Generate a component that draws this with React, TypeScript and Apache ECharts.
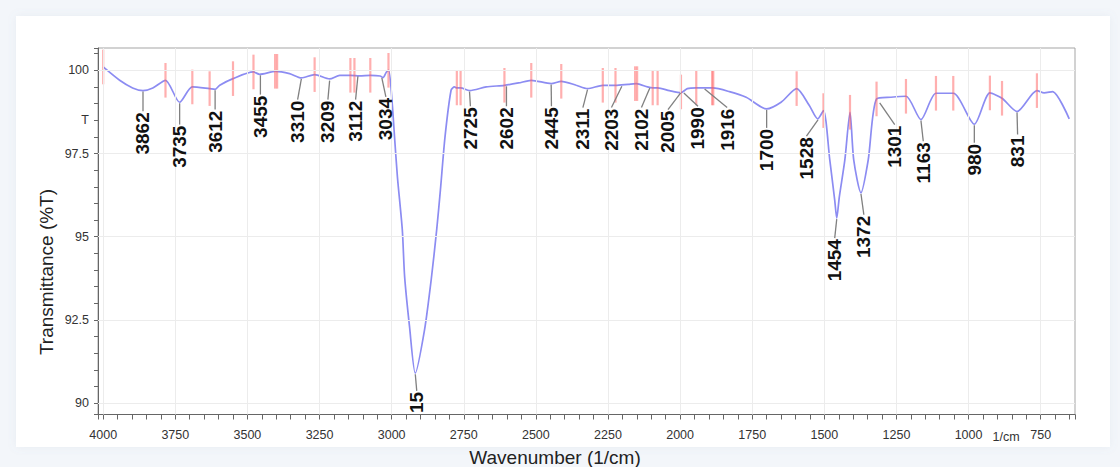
import React, { useEffect, useRef } from "react";
import * as echarts from "echarts";

// FTIR spectrum (wavenumber in 1/cm, transmittance in %T)
const wavenumbers = [
  4000, 3943, 3898, 3862, 3828, 3784, 3735, 3691, 3631, 3612, 3596, 3550, 3479, 3458, 3402, 3354,
  3313, 3267, 3215, 3180, 3143, 3111, 3074, 3040, 3030, 3018, 3010, 2998, 2990, 2980, 2963,
  2955, 2938, 2918, 2886, 2863, 2844, 2831, 2815, 2794, 2782, 2774, 2761, 2730, 2672, 2609,
  2560, 2516, 2447, 2412, 2360, 2321, 2268, 2224, 2180, 2152, 2113, 2095, 2078, 2037, 1997, 1975,
  1944, 1887, 1829, 1771, 1700, 1650, 1596, 1552, 1523, 1503, 1481, 1464, 1457, 1448, 1429, 1411,
  1398, 1373, 1348, 1319, 1269, 1217, 1165, 1113, 1053, 980, 926, 884, 832, 763, 738, 709, 651,
];
const transmittance = [
  100.1, 99.7, 99.47, 99.39, 99.47, 99.7, 99.04, 99.5, 99.45, 99.43, 99.55, 99.75, 99.95, 99.88, 99.97, 99.9,
  99.77, 99.87, 99.74, 99.85, 99.85, 99.83, 99.85, 99.83, 99.78, 99.95, 100.0, 99.0, 98.0, 96.8, 95.2,
  93.8, 92.3, 90.9, 92.2, 93.7, 95.2, 96.4, 98.0, 99.4, 99.5, 99.47, 99.47, 99.39, 99.5, 99.55,
  99.62, 99.7, 99.6, 99.67, 99.55, 99.45, 99.55, 99.55, 99.58, 99.6, 99.5, 99.47, 99.47, 99.39, 99.33, 99.45,
  99.47, 99.47, 99.36, 99.19, 98.84, 99.04, 99.45, 98.94, 98.54, 98.79, 97.3, 96.1, 95.56, 96.2, 97.3, 98.74,
  97.3, 96.32, 97.3, 99.14, 99.19, 99.22, 98.52, 99.31, 99.31, 98.38, 99.32, 99.16, 98.76, 99.39, 99.32, 99.36, 98.54,
];

// Peak annotations
const peakLabels = [
  "3862", "3735", "3612", "3455", "3310", "3209", "3112", "3034", "15", "2725", "2602", "2445", "2311",
  "2203", "2102", "2005", "1990", "1916", "1700", "1528", "1454", "1372", "1301", "1163", "980", "831",
];
const peakWn = [
  3862, 3735, 3612, 3455, 3313, 3215, 3117, 3034, 2918, 2730, 2602, 2447, 2321,
  2202, 2105, 1998, 1987, 1915, 1700, 1522, 1457, 1373, 1308, 1165, 980, 832,
];
const peakT = [
  99.39, 99.04, 99.43, 99.88, 99.77, 99.72, 99.85, 99.8, 90.9, 99.39, 99.55, 99.6, 99.45,
  99.55, 99.5, 99.35, 99.35, 99.47, 98.84, 98.54, 95.56, 96.32, 99.05, 98.52, 98.38, 98.76,
];
const labelWn = [
  3862, 3735, 3612, 3455, 3326, 3221, 3125, 3020, 2913, 2727, 2602, 2446, 2337,
  2238, 2134, 2042, 1938, 1837, 1700, 1562, 1464, 1363, 1256, 1157, 980, 830,
];
const labelTopT = [
  98.77, 98.37, 98.82, 99.27, 99.12, 99.12, 99.12, 99.2, 90.37, 98.92, 98.92, 98.92, 98.88,
  98.88, 98.88, 98.82, 98.92, 98.88, 98.27, 98.02, 94.96, 95.66, 98.37, 97.87, 97.82, 98.07,
];

// Red peak-pick markers
const markerWn = [
  4000, 3784, 3691, 3631, 3550, 3479, 3404, 3397, 3267, 3143, 3129, 3074, 3011, 2774, 2761, 2609,
  2516, 2412, 2268, 2224, 2156, 2149, 2095, 2078, 1997, 1944, 1889, 1885, 1596, 1503, 1411, 1319,
  1217, 1113, 1053, 926, 884, 763,
];
const markerT = [
  100.1, 99.7, 99.5, 99.45, 99.75, 99.95, 99.97, 99.97, 99.87, 99.85, 99.85, 99.85, 100.0, 99.47, 99.47, 99.55,
  99.7, 99.67, 99.55, 99.55, 99.6, 99.6, 99.47, 99.47, 99.35, 99.47, 99.47, 99.47, 99.45, 98.79, 98.74, 99.14,
  99.22, 99.31, 99.31, 99.32, 99.16, 99.39,
];

// Axis ticks
const xTickLabels = [4000, 3750, 3500, 3250, 3000, 2750, 2500, 2250, 2000, 1750, 1500, 1250, 1000, 750];
const yTickValues = [100, 98.5, 97.5, 95, 92.5, 90];
const yTickTexts = ["100", "T", "97.5", "95", "92.5", "90"];
const yGridValues = [100, 97.5, 95, 92.5, 90];

const FONT = '"Liberation Sans", Arial, sans-serif';

export default function App() {
  const ref = useRef<HTMLDivElement>(null);

  useEffect(() => {
    if (!ref.current) return;
    const chart = echarts.init(ref.current, undefined, { renderer: "svg" });

    const curve = wavenumbers.map((w, i) => [w, transmittance[i]]);
    const peaks = peakWn.map((w, i) => [w, peakT[i], labelWn[i], labelTopT[i]]);
    const markers = markerWn.map((w, i) => [w, markerT[i]]);

    const option: any = {
      animation: false,
      backgroundColor: "transparent",
      grid: {
        left: 98,
        right: 45,
        top: 48,
        bottom: 52.5,
        show: true,
        borderColor: "#a5a5a5",
        borderWidth: 1,
        backgroundColor: "#ffffff",
      },
      xAxis: {
        type: "value",
        inverse: true,
        min: 631,
        max: 4018,
        splitNumber: 60,
        axisLine: { show: true, onZero: false, lineStyle: { color: "#666", width: 1 } },
        axisTick: { show: true, length: 5, lineStyle: { color: "#666" } },
        axisLabel: {
          fontFamily: FONT,
          fontSize: 12.5,
          color: "#333",
          margin: 14,
          formatter: (v: number) => (xTickLabels.some((t) => Math.abs(t - v) < 1e-6) ? String(v) : ""),
        },
        splitLine: { show: false },
      },
      yAxis: {
        type: "value",
        min: 89.66,
        max: 100.67,
        splitNumber: 20,
        axisLine: { show: true, onZero: false, lineStyle: { color: "#666", width: 1 } },
        axisTick: { show: true, length: 4, lineStyle: { color: "#666" } },
        axisLabel: {
          fontFamily: FONT,
          fontSize: 12.5,
          color: "#333",
          margin: 9,
          formatter: (v: number) => {
            const i = yTickValues.findIndex((t) => Math.abs(t - v) < 1e-6);
            return i >= 0 ? yTickTexts[i] : "";
          },
        },
        splitLine: { show: false },
      },
      graphic: [
        {
          type: "rect",
          z: -10,
          shape: { x: 16, y: 16, width: 1094, height: 431 },
          style: { fill: "#ffffff", shadowBlur: 8, shadowColor: "rgba(120,140,170,0.10)" },
        },
        {
          type: "text",
          z: 10,
          x: 46,
          y: 272,
          rotation: Math.PI / 2,
          style: {
            text: "Transmittance (%T)",
            font: `19px ${FONT}`,
            fill: "#222",
            align: "center",
            verticalAlign: "middle",
          },
        },
        {
          type: "text",
          z: 10,
          x: 555,
          y: 457,
          style: {
            text: "Wavenumber (1/cm)",
            font: `19px ${FONT}`,
            fill: "#222",
            align: "center",
            verticalAlign: "middle",
          },
        },
        {
          type: "text",
          z: 10,
          x: 1006,
          y: 437,
          style: {
            text: "1/cm",
            font: `12.5px ${FONT}`,
            fill: "#333",
            align: "center",
            verticalAlign: "middle",
          },
        },
      ],
      series: [
        {
          type: "line",
          name: "grid",
          data: [],
          silent: true,
          z: 1,
          markLine: {
            silent: true,
            symbol: ["none", "none"],
            label: { show: false },
            lineStyle: { color: "#ececec", width: 1, type: "solid" },
            data: [
              ...xTickLabels.map((v) => ({ xAxis: v })),
              ...yGridValues.map((v) => ({ yAxis: v })),
            ],
          },
        },
        {
          type: "line",
          name: "spectrum",
          data: curve,
          showSymbol: false,
          smooth: 0.25,
          z: 3,
          lineStyle: { color: "#8c8cf2", width: 1.7 },
        },
        {
          type: "custom",
          name: "markers",
          data: markers,
          z: 4,
          silent: true,
          renderItem: (params: any, api: any) => {
            const w = api.value(0);
            const t = api.value(1);
            const a = api.coord([w, t + 0.52]);
            const b = api.coord([w, t - 0.52]);
            return {
              type: "line",
              shape: { x1: a[0], y1: a[1], x2: b[0], y2: b[1] },
              style: { stroke: "rgba(255,95,95,0.5)", lineWidth: 2.2 },
            };
          },
        },
        {
          type: "custom",
          name: "peaks",
          data: peaks,
          z: 5,
          silent: true,
          renderItem: (params: any, api: any) => {
            const p0 = api.coord([api.value(0), api.value(1)]);
            const p1 = api.coord([api.value(2), api.value(3)]);
            const text = peakLabels[params.dataIndex];
            return {
              type: "group",
              children: [
                {
                  type: "line",
                  shape: { x1: p0[0], y1: p0[1] + 1, x2: p1[0], y2: p1[1] },
                  style: { stroke: "#808080", lineWidth: 1.3 },
                },
                {
                  type: "text",
                  x: p1[0],
                  y: p1[1] + 1,
                  rotation: Math.PI / 2,
                  style: {
                    text,
                    font: `bold 19px ${FONT}`,
                    fill: "#111",
                    align: "right",
                    verticalAlign: "middle",
                  },
                },
              ],
            };
          },
        },
      ],
    };

    chart.setOption(option);
    return () => chart.dispose();
  }, []);

  return (
    <div
      style={{
        position: "fixed",
        left: 0,
        top: 0,
        width: 1120,
        height: 467,
        background: "#f3f6fa",
      }}
    >
      <div ref={ref} style={{ width: 1120, height: 467 }} />
    </div>
  );
}
